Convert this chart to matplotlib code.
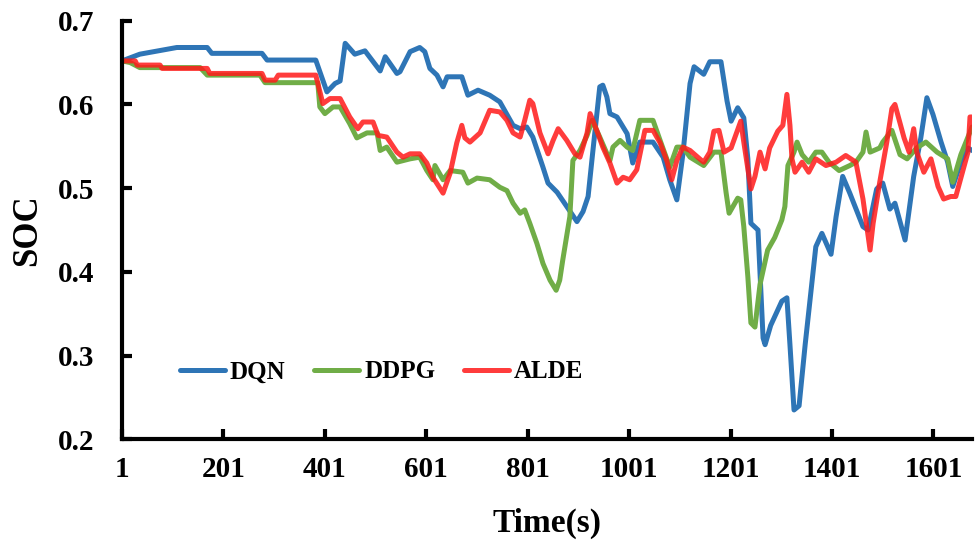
import matplotlib
matplotlib.use("Agg")
import matplotlib.pyplot as plt

# ---- data (time in s, SOC) ----
dqn_t = [1, 36, 109, 169, 178, 277, 287, 383, 405, 421, 431, 441, 460, 480, 510, 520, 543, 549,
         569, 588, 598, 608, 622, 634, 642, 671, 683, 703, 726, 746, 772, 786, 799, 811, 831, 841,
         859, 878, 898, 910, 920, 929, 943, 949, 957, 963, 977, 997, 1008, 1022, 1048, 1068, 1081,
         1095, 1107, 1121, 1129, 1148, 1160, 1182, 1194, 1202, 1215, 1227, 1235, 1241, 1255, 1265,
         1269, 1280, 1302, 1312, 1318, 1326, 1336, 1348, 1369, 1381, 1399, 1409, 1422, 1436, 1462,
         1472, 1489, 1501, 1515, 1525, 1545, 1562, 1576, 1588, 1600, 1616, 1629, 1639, 1655, 1669, 1677]
dqn_soc = [0.652, 0.660, 0.668, 0.668, 0.661, 0.661, 0.653, 0.653, 0.615, 0.625, 0.628, 0.673, 0.660,
           0.664, 0.640, 0.657, 0.637, 0.639, 0.663, 0.668, 0.663, 0.643, 0.635, 0.621, 0.633, 0.633,
           0.611, 0.617, 0.611, 0.603, 0.575, 0.571, 0.573, 0.561, 0.525, 0.506, 0.495, 0.478, 0.460,
           0.472, 0.490, 0.542, 0.621, 0.623, 0.609, 0.589, 0.585, 0.565, 0.530, 0.555, 0.555, 0.537,
           0.510, 0.486, 0.541, 0.625, 0.645, 0.636, 0.651, 0.651, 0.604, 0.580, 0.596, 0.584, 0.535,
           0.458, 0.450, 0.321, 0.313, 0.336, 0.365, 0.369, 0.313, 0.235, 0.240, 0.313, 0.430, 0.446,
           0.421, 0.466, 0.514, 0.494, 0.454, 0.450, 0.499, 0.506, 0.475, 0.482, 0.438, 0.514, 0.560,
           0.608, 0.588, 0.555, 0.531, 0.502, 0.531, 0.548, 0.545]

ddpg_t = [1, 17, 36, 155, 169, 273, 283, 387, 391, 401, 417, 431, 450, 464, 484, 504, 510, 523, 543,
          569, 588, 602, 614, 618, 634, 648, 673, 683, 701, 726, 746, 760, 772, 786, 795, 805, 819,
          831, 845, 857, 864, 870, 884, 890, 904, 918, 928, 943, 963, 969, 983, 997, 1008, 1022, 1048,
          1062, 1081, 1095, 1107, 1121, 1148, 1168, 1182, 1192, 1198, 1215, 1221, 1227, 1235, 1241,
          1249, 1259, 1274, 1288, 1302, 1308, 1314, 1326, 1332, 1342, 1355, 1369, 1381, 1395, 1415,
          1436, 1448, 1462, 1468, 1476, 1495, 1501, 1519, 1535, 1549, 1568, 1586, 1608, 1629, 1639,
          1655, 1677]
ddpg_soc = [0.652, 0.650, 0.644, 0.644, 0.635, 0.635, 0.626, 0.626, 0.597, 0.589, 0.597, 0.597, 0.577,
            0.560, 0.566, 0.566, 0.545, 0.549, 0.531, 0.535, 0.537, 0.521, 0.510, 0.527, 0.510, 0.521,
            0.519, 0.506, 0.512, 0.510, 0.501, 0.497, 0.482, 0.470, 0.474, 0.458, 0.434, 0.410, 0.390,
            0.378, 0.390, 0.414, 0.466, 0.533, 0.545, 0.563, 0.581, 0.561, 0.533, 0.549, 0.557, 0.549,
            0.545, 0.581, 0.581, 0.557, 0.525, 0.549, 0.549, 0.537, 0.527, 0.543, 0.543, 0.495, 0.470,
            0.488, 0.486, 0.454, 0.394, 0.339, 0.334, 0.385, 0.426, 0.441, 0.462, 0.478, 0.527, 0.543,
            0.555, 0.540, 0.531, 0.543, 0.543, 0.531, 0.521, 0.527, 0.531, 0.543, 0.567, 0.543, 0.548,
            0.555, 0.569, 0.540, 0.535, 0.548, 0.555, 0.543, 0.535, 0.507, 0.540, 0.573]

alde_t = [1, 27, 31, 76, 80, 169, 174, 277, 283, 303, 309, 383, 397, 411, 431, 450, 466, 476, 496, 506,
          523, 543, 555, 569, 588, 602, 614, 634, 648, 661, 671, 677, 687, 707, 726, 746, 760, 772, 786,
          795, 805, 811, 825, 841, 851, 861, 878, 894, 904, 918, 924, 937, 949, 963, 977, 989, 1002,
          1016, 1032, 1048, 1062, 1075, 1085, 1095, 1107, 1121, 1140, 1148, 1160, 1168, 1178, 1188,
          1202, 1221, 1227, 1241, 1249, 1259, 1269, 1278, 1294, 1304, 1312, 1318, 1322, 1328, 1342,
          1355, 1369, 1389, 1409, 1428, 1448, 1462, 1476, 1482, 1495, 1509, 1519, 1525, 1543, 1553,
          1562, 1568, 1582, 1596, 1610, 1621, 1635, 1645, 1669, 1673, 1677]
alde_soc = [0.652, 0.652, 0.647, 0.647, 0.643, 0.643, 0.637, 0.637, 0.629, 0.629, 0.635, 0.635, 0.601,
            0.607, 0.607, 0.585, 0.571, 0.579, 0.579, 0.563, 0.561, 0.543, 0.537, 0.541, 0.541, 0.530,
            0.513, 0.494, 0.518, 0.554, 0.575, 0.560, 0.555, 0.566, 0.593, 0.591, 0.581, 0.566, 0.561,
            0.581, 0.605, 0.601, 0.566, 0.541, 0.557, 0.571, 0.557, 0.541, 0.537, 0.566, 0.589, 0.569,
            0.549, 0.530, 0.506, 0.513, 0.510, 0.522, 0.569, 0.569, 0.554, 0.533, 0.510, 0.533, 0.549,
            0.545, 0.535, 0.531, 0.543, 0.568, 0.569, 0.543, 0.548, 0.580, 0.555, 0.499, 0.514, 0.543,
            0.523, 0.548, 0.568, 0.575, 0.612, 0.575, 0.535, 0.519, 0.531, 0.519, 0.535, 0.527, 0.531,
            0.539, 0.531, 0.487, 0.426, 0.458, 0.507, 0.555, 0.595, 0.600, 0.560, 0.543, 0.571, 0.543,
            0.519, 0.535, 0.502, 0.487, 0.490, 0.490, 0.543, 0.585, 0.585]

x_ticks = [1, 201, 401, 601, 801, 1001, 1201, 1401, 1601]
y_ticks = [0.2, 0.3, 0.4, 0.5, 0.6, 0.7]

plt.rcParams['font.family'] = ['Liberation Serif', 'DejaVu Serif']
plt.rcParams['font.weight'] = 'bold'

fig = plt.figure(figsize=(9.77, 5.45), dpi=100)
ax = fig.add_axes([0.1249, 0.194, 0.87, 0.768])

ax.plot(dqn_t, dqn_soc, color='#2E75B6', lw=3.6, label='DQN', solid_capstyle='round')
ax.plot(ddpg_t, ddpg_soc, color='#70AD47', lw=3.6, label='DDPG', solid_capstyle='round')
ax.plot(alde_t, alde_soc, color='#FF1A1A', lw=3.6, alpha=0.85, label='ALDE', solid_capstyle='round')

ax.set_xlim(1, 1677)
ax.set_ylim(0.2, 0.7)
ax.set_xticks(x_ticks)
ax.set_xticklabels([str(v) for v in x_ticks])
ax.set_yticks(y_ticks)
ax.set_yticklabels([f"{v:.1f}" for v in y_ticks])

for s in ['top', 'right']:
    ax.spines[s].set_visible(False)
for s in ['left', 'bottom']:
    ax.spines[s].set_linewidth(3)

ax.tick_params(axis='both', direction='in', length=7, width=3, labelsize=21)
ax.tick_params(axis='x', pad=12)
ax.tick_params(axis='y', pad=20)
for lab in ax.get_xticklabels() + ax.get_yticklabels():
    lab.set_fontweight('bold')

ax.set_xlabel('Time(s)', fontsize=24, fontweight='bold', labelpad=18)
ax.set_ylabel('SOC', fontsize=25, fontweight='bold', labelpad=10)

leg = ax.legend(loc='center left', bbox_to_anchor=(0.068, 0.161), ncol=3, frameon=False,
                prop={'family': 'Liberation Serif', 'weight': 'bold', 'size': 18},
                handlelength=1.8, handletextpad=0.2, columnspacing=1.15,
                borderaxespad=0, borderpad=0)
for h in leg.get_lines():
    h.set_linewidth(3.6)

fig.savefig('out.png', dpi=100)
